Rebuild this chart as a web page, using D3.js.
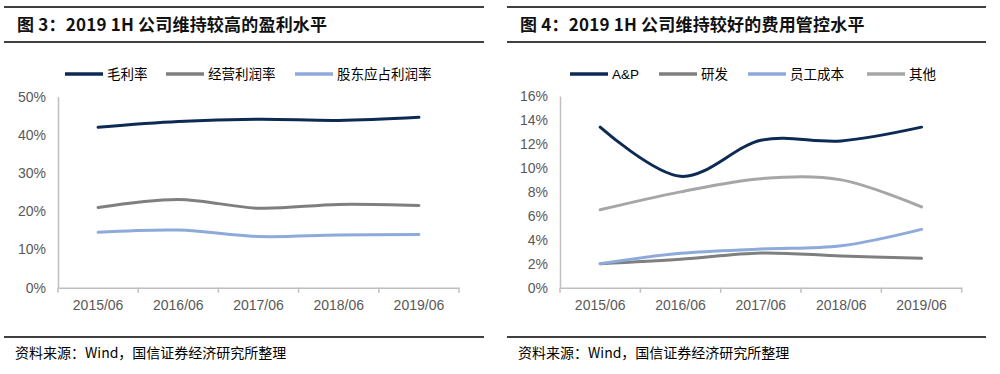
<!DOCTYPE html>
<html>
<head>
<meta charset="utf-8">
<script src="https://cdn.jsdelivr.net/npm/d3@7"></script>
<style>
  body { margin: 0; background: #fff; }
  svg { display: block; }
</style>
</head>
<body>
<div id="chart"></div>
<script>
// data (percent)
const categories = ["2015/06", "2016/06", "2017/06", "2018/06", "2019/06"];

const marginNames = ["毛利率", "经营利润率", "股东应占利润率"];
const grossMargin = [42.0, 43.5, 44.1, 43.8, 44.6];
const opMargin = [21.0, 23.1, 20.8, 21.8, 21.5];
const netMargin = [14.5, 15.1, 13.4, 13.8, 13.9];
const marginTicks = [0, 10, 20, 30, 40, 50];

const expenseNames = ["A&P", "研发", "员工成本", "其他"];
const apRatio = [13.4, 9.3, 12.3, 12.25, 13.4];
const rdRatio = [2.0, 2.37, 2.9, 2.65, 2.45];
const staffRatio = [2.0, 2.87, 3.23, 3.5, 4.87];
const otherRatio = [6.5, 8.0, 9.1, 9.0, 6.75];
const expenseTicks = [0, 2, 4, 6, 8, 10, 12, 14, 16];

const titles = ["图 3：2019 1H 公司维持较高的盈利水平", "图 4：2019 1H 公司维持较好的费用管控水平"];
const sourceText = "资料来源：Wind，国信证券经济研究所整理";

const navy = "#0d2a55", gray = "#7f7f7f", lightBlue = "#8eaadb", lightGray = "#a6a6a6";
const cjk = "'Noto Sans CJK SC', sans-serif";
const latin = "'Liberation Sans', Arial, sans-serif";

const svg = d3.select("#chart").append("svg")
  .attr("width", 1000)
  .attr("height", 374);

const panels = [
  {
    ruleX: [4, 484], titleX: 17,
    plot: { x0: 58, x1: 459, top: 96.7, bottom: 287.7 },
    max: 50, ticks: marginTicks,
    series: [
      { name: marginNames[0], values: grossMargin, color: navy },
      { name: marginNames[1], values: opMargin, color: gray },
      { name: marginNames[2], values: netMargin, color: lightBlue }
    ],
    legendX: [65, 166, 295]
  },
  {
    ruleX: [507, 986], titleX: 520,
    plot: { x0: 560, x1: 961.7, top: 96, bottom: 287.7 },
    max: 16, ticks: expenseTicks,
    series: [
      { name: expenseNames[0], values: apRatio, color: navy },
      { name: expenseNames[1], values: rdRatio, color: gray },
      { name: expenseNames[2], values: staffRatio, color: lightBlue },
      { name: expenseNames[3], values: otherRatio, color: lightGray }
    ],
    legendX: [570, 659, 748, 867]
  }
];

panels.forEach((p, i) => {
  const g = svg.append("g");

  // title block with rules
  [7, 42, 337].forEach(y => {
    g.append("line")
      .attr("x1", p.ruleX[0]).attr("x2", p.ruleX[1])
      .attr("y1", y).attr("y2", y)
      .attr("stroke", "#000").attr("stroke-width", 1.5);
  });
  g.append("text")
    .attr("x", p.titleX).attr("y", 31)
    .attr("font-family", cjk)
    .attr("font-size", 17)
    .attr("font-weight", "bold")
    .attr("letter-spacing", 0.2)
    .attr("fill", "#111")
    .text(titles[i]);

  g.append("text")
    .attr("x", p.ruleX[0] + 11).attr("y", 358)
    .attr("font-family", cjk)
    .attr("font-size", 14)
    .attr("fill", "#000")
    .text(sourceText);

  // scales
  const x = d3.scaleBand().domain(categories).range([p.plot.x0, p.plot.x1]);
  const y = d3.scaleLinear().domain([0, p.max]).range([p.plot.bottom, p.plot.top]);

  // y axis
  const yAxis = g.append("g")
    .attr("transform", `translate(${p.plot.x0},0)`)
    .call(d3.axisLeft(y).tickValues(p.ticks).tickSize(0).tickPadding(12).tickFormat(d => d + "%"));
  yAxis.select(".domain").attr("stroke", "#bfbfbf").attr("stroke-width", 1.5);
  yAxis.selectAll("text")
    .attr("font-family", latin).attr("font-size", 14).attr("fill", "#595959");

  // x axis with boundary ticks
  const xAxis = g.append("g")
    .attr("transform", `translate(0,${p.plot.bottom})`)
    .call(d3.axisBottom(x).tickSize(0).tickPadding(12));
  xAxis.select(".domain").attr("stroke", "#bfbfbf").attr("stroke-width", 1.5);
  xAxis.selectAll("text")
    .attr("font-family", latin).attr("font-size", 14).attr("fill", "#595959");
  xAxis.selectAll(".bound")
    .data(categories.concat(["end"]))
    .enter().append("line")
    .attr("x1", (d, k) => k < categories.length ? x(d) : p.plot.x1)
    .attr("x2", (d, k) => k < categories.length ? x(d) : p.plot.x1)
    .attr("y1", 0).attr("y2", 5)
    .attr("stroke", "#bfbfbf").attr("stroke-width", 1.5);

  // smoothed lines
  const line = d3.line()
    .x((d, k) => x(categories[k]) + x.bandwidth() / 2)
    .y(d => y(d))
    .curve(d3.curveCatmullRom.alpha(0));

  p.series.forEach(s => {
    g.append("path")
      .datum(s.values)
      .attr("d", line)
      .attr("fill", "none")
      .attr("stroke", s.color)
      .attr("stroke-width", 3)
      .attr("stroke-linecap", "round");
  });

  // legend
  p.series.forEach((s, k) => {
    const lx = p.legendX[k];
    g.append("line")
      .attr("x1", lx).attr("x2", lx + 38)
      .attr("y1", 74).attr("y2", 74)
      .attr("stroke", s.color).attr("stroke-width", 3.5);
    g.append("text")
      .attr("x", lx + 42).attr("y", 79)
      .attr("font-family", /^[A-Za-z&]+$/.test(s.name) ? latin : cjk)
      .attr("font-size", 13.5)
      .attr("fill", "#000")
      .text(s.name);
  });
});
</script>
</body>
</html>
